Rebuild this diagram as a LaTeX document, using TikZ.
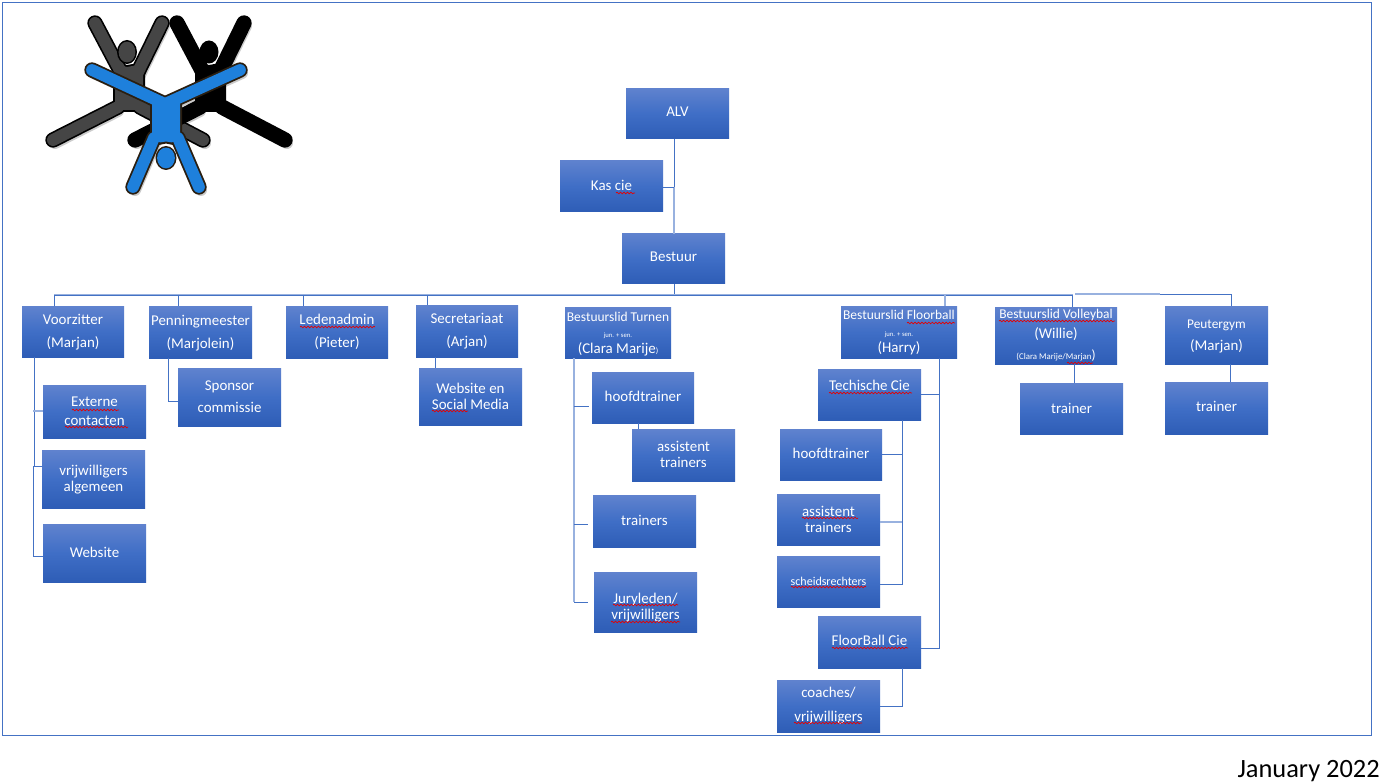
\documentclass[tikz,border=0pt]{standalone}
\usepackage{fontspec}
\setmainfont{Carlito}
\usetikzlibrary{decorations.pathmorphing,calc}
\definecolor{frameblue}{HTML}{4472C4}
\definecolor{boxtop}{HTML}{5F82CE}
\definecolor{boxmid}{HTML}{3F6EC6}
\definecolor{boxbot}{HTML}{2E5DB6}
\definecolor{logoblue}{HTML}{1E80DC}
\definecolor{logogrey}{HTML}{454545}
\definecolor{logoedge}{HTML}{2A1E10}
\newcommand{\fs}[1]{\fontsize{#1}{#1}\selectfont}
\tikzset{
  orgbox/.style={rectangle,inner sep=0pt,outer sep=0pt,top color=boxtop,bottom color=boxbot,middle color=boxmid,shading angle=0},
  boxtext/.style={text=white,align=center,inner sep=0pt,font=\fs{11.2pt}},
  link/.style={draw=frameblue,line width=0.7pt},
  palelink/.style={draw=frameblue!55,line width=0.8pt},
  squig/.style={draw=red!90!black,line width=0.5pt,decorate,decoration={snake,amplitude=0.6pt,segment length=2.6pt}},
  shadowlimb/.style={draw=black!40,opacity=.5,line width=9pt,line cap=round,line join=round},
  limb/.style={line cap=round,line join=round}
}
\newcommand{\bx}[8]{%
  \pgfmathsetmacro{\bw}{(#4-#2)*0.75}%
  \pgfmathsetmacro{\bh}{(#5-#3-0.6)*0.75}%
  \pgfmathsetmacro{\sx}{#6*0.75}%
  \pgfmathsetmacro{\sy}{-(#7-0.6)*0.75}%
  \node[orgbox,minimum width=\bw pt,minimum height=\bh pt,
    label={[boxtext,xshift=\sx pt,yshift=\sy pt]center:{#8}}] (#1) at ({(#2+#4)/2},{(#3+#5)/2+0.3}) {};}
\begin{document}
\begin{tikzpicture}[x=0.75pt,y=-0.75pt]
\useasboundingbox (0,0) rectangle (1385,784);
\fill[white] (0,0) rectangle (1385,784);
\draw[frameblue,line width=0.7pt] (2,2) rectangle (1371,735);
% --- logo ---
\begin{scope}[shift={(2,3)}]
\draw[shadowlimb] (95,23)--(123,76) (162,23)--(136,76) (129,72)--(129,102) (53,140)--(116,108) (203,140)--(142,108);
\draw[shadowlimb] (177,23)--(205,76) (244,23)--(218,76) (211,72)--(211,102) (135,140)--(198,108) (285,140)--(224,108);
\draw[shadowlimb] (92,70)--(165,104)--(240,70) (165,104)--(165,130) (133,187)--(154,138) (199,187)--(178,138);
\end{scope}
% grey figure
\draw[limb,draw=black,line width=11.5pt] (95,23)--(123,76) (162,23)--(136,76) (53,140)--(118,107) (203,140)--(140,107);
\fill[black] (113,62)--(127,65)--(145,62)--(145,112)--(113,112)--cycle;
\draw[limb,logogrey,line width=9pt] (95,23)--(123,76) (162,23)--(136,76) (53,140)--(118,107) (203,140)--(140,107);
\fill[logogrey] (115,64)--(127,67)--(143,64)--(143,110)--(115,110)--cycle;
\fill[black] (127,52) ellipse (10 and 12);
\fill[logogrey] (127,52) ellipse (8.4 and 10.4);
% black figure
\draw[limb,black,line width=11.5pt] (177,23)--(205,76) (244,23)--(218,76) (135,140)--(200,107) (285,140)--(222,107);
\fill[black] (195,62)--(209,65)--(226,62)--(226,112)--(195,112)--cycle;
\fill[black] (209,52) ellipse (9.5 and 11.5);
% blue figure
\draw[limb,logoedge,line width=11.5pt] (92,70)--(165,104)--(240,70) (133,187)--(154,138) (199,187)--(178,138);
\fill[logoedge] (150,104)--(182,104)--(182,136)--(173,145)--(166,143.5)--(159,145)--(150,136)--cycle;
\draw[limb,logoblue,line width=8.8pt] (92,70)--(165,104)--(240,70) (133,187)--(154,138) (199,187)--(178,138);
\fill[logoblue] (152,104)--(180,104)--(180,135)--(172,142.5)--(166,141.5)--(160,142.5)--(152,135)--cycle;
\fill[logoedge] (166,158) ellipse (10.5 and 12);
\fill[logoblue] (166,158) ellipse (8.9 and 10.4);
% --- boxes ---
\bx{alv}{626}{88}{729}{139}{0}{-1}{ALV}
\bx{kas}{560}{160}{663}{212}{0}{0}{Kas cie}
\bx{bestuur}{622}{233}{725}{284}{0}{-1}{Bestuur}
\bx{voorz}{22}{306}{124}{357}{0}{1}{Voorzitter\\[6pt](Marjan)}
\bx{penn}{149}{306}{252}{358}{0}{1}{Penningmeester\\[6pt](Marjolein)}
\bx{leden}{286}{306}{388}{358}{0}{0}{Ledenadmin\\[6pt](Pieter)}
\bx{secr}{416}{305}{518}{357}{0}{0}{Secretariaat\\[6pt](Arjan)}
\bx{turnen}{565}{307}{671}{358}{0}{2}{{\fs{10.1pt}Bestuurslid Turnen}\\[1pt]{\fs{5pt}jun. + sen.}\\[1pt]{(Clara Marije{\fs{6pt})}}}
\bx{floor}{841}{306}{957}{358}{0}{1}{{\fs{10.1pt}Bestuurslid Floorball}\\[1pt]{\fs{5pt}jun. + sen.}\\[1pt](Harry)}
\bx{volley}{995}{307}{1117}{364}{0}{0}{{\fs{10.1pt}Bestuurslid Volleybal}\\[4pt](Willie)\\[4pt]{\fs{6.6pt}(Clara Marije/Marjan{\fs{10pt})}}}
\bx{peuter}{1165}{306}{1268}{364}{0}{2}{{\fs{10pt}Peutergym}\\[5pt](Marjan)}
\bx{extern}{43}{385}{146}{438}{0}{0}{Externe\\[2.5pt]contacten}
\bx{vrij}{42}{450}{145}{508}{0}{1}{vrijwilligers\\[1pt]algemeen}
\bx{web}{43}{524}{146}{582}{0}{0}{Website}
\bx{spons}{178}{368}{281}{426}{0}{0}{Sponsor\\[5pt]commissie}
\bx{webso}{419}{368}{522}{425}{0}{0}{Website en\\[1pt]Social Media}
\bx{hoofd}{592}{372}{694}{423}{0}{-1}{hoofdtrainer}
\bx{assist}{632}{429}{735}{481}{0}{0}{assistent\\[1pt]trainers}
\bx{trainers}{593}{495}{696}{547}{0}{0}{trainers}
\bx{jury}{594}{572}{697}{632}{0}{6}{Juryleden/\\[1pt]vrijwilligers}
\bx{tech}{818}{369}{921}{420}{0}{-9}{Techische Cie}
\bx{hoofdb}{780}{429}{882}{480}{0}{-1}{hoofdtrainer}
\bx{assistb}{777}{494}{880}{545}{0}{0}{assistent\\[1pt]trainers}
\bx{scheids}{777}{556}{880}{607}{0}{0}{{\fs{9pt}scheidsrechters}}
\bx{fcie}{818}{616}{921}{668}{0}{-1}{FloorBall Cie}
\bx{coach}{777}{680}{880}{732}{0}{0}{coaches/\\[7pt]vrijwilligers}
\bx{trainv}{1020}{383}{1123}{434}{0}{0}{trainer}
\bx{trainp}{1165}{382}{1268}{434}{0}{-1}{trainer}
% --- connectors ---
\coordinate (busa) at (674,295);
\coordinate (busb) at (1075,294);
\coordinate (alvx) at (674,139);
\coordinate (kasx) at (674,187);
\draw[palelink] (kasx) -- (alvx |- bestuur.north);
\draw[link] (alvx) -- (kasx);
\draw[link] (kas.east |- kasx) -- (kasx);
\draw[link] (alvx |- bestuur.south) -- (busa);
\draw[palelink] (54,294.2) -- (1073,294.2);
\draw[link] (54,306) -- (54,295) -- (1073,295);
\draw[link] (178,295) -- (178,306);
\draw[link] (303,295) -- (303,306);
\draw[link] (427,295) -- (427,305);
\draw[palelink] (945,295) -- (945,306);
\draw[link] (1072,295) -- (1072,307);
\draw[palelink] (busb) -- (1160,294);
\draw[link] (1160,294) -- (1231,294) -- (1231,306);
% voorzitter
\draw[link] (34,357) -- (34,466);
\draw[link] (42,466) -- (33.5,466) -- (33.5,556) -- (43,556);
\draw[palelink] (33,411) -- (43,411);
% penningmeester
\draw[link] (168,358) -- (168,401) -- (178,401);
% secretariaat
\draw[link] (435,357) -- (435,368);
% turnen
\draw[palelink] (574,358) -- (574,602);
\draw[link] (574,602) -- (588,602);
\draw[link] (574,406) -- (589,406);
\draw[link] (574,524) -- (588,524);
\draw[link] (638,423) -- (638,429);
% floorball
\draw[link] (939,358) -- (939,648) -- (921,648);
\draw[link] (921,394) -- (939,394);
\draw[link] (902,420) -- (902,584) -- (880,584);
\draw[link] (882,454) -- (902,454);
\draw[palelink] (880,522) -- (902,522);
\draw[link] (902,668) -- (902,706) -- (880,706);
% trainers
\draw[link] (1074,364) -- (1074,383);
\draw[link] (1230,364) -- (1230,382);
% --- spelling squiggles ---
\foreach \xa/\xb/\yy in {616/635/193,72/119/410,65/128/427,300/375/327,432/468/411,829/912/393,907/955/323,999/1115/321,1067/1093/363,802/858/518,791/866/587,832/908/648,794/862/723,613/678/605,611/680/622}
  \draw[squig] (\xa,\yy) -- (\xb,\yy);
\node[inner sep=0pt,anchor=east,font=\fs{19.8pt}] (date) at (1380,771) {January 2022};
\end{tikzpicture}
\end{document}
